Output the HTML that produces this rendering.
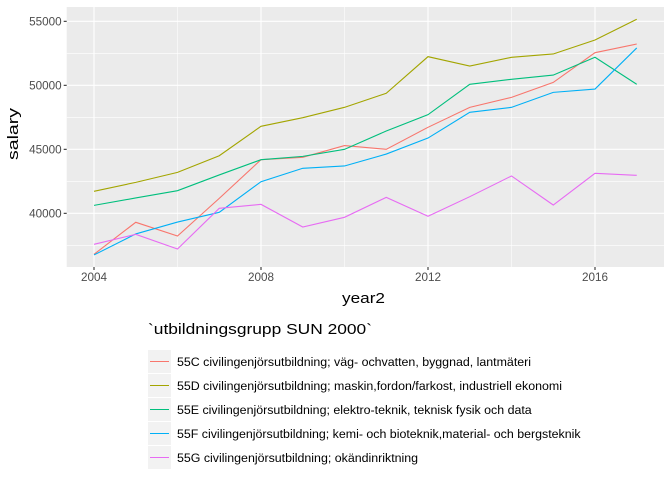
<!DOCTYPE html>
<html><head><meta charset="utf-8"><style>
body{margin:0;background:#fff;font-family:"Liberation Sans",Arial,sans-serif}
svg text{font-family:"Liberation Sans",Arial,sans-serif}
</style></head><body>
<svg id="chart" width="672" height="480">
<rect x="0" y="0" width="672" height="480" fill="#fff"/>
<rect x="66.7" y="7" width="597.3" height="260" fill="#ebebeb"/>
<g id="grid"></g>
<g id="series"></g>
<g id="axes"></g>
<text x="342" y="303" font-size="14.5" textLength="43" lengthAdjust="spacingAndGlyphs" fill="#000">year2</text>
<text transform="translate(18,160) rotate(-90)" font-size="14.5" textLength="52" lengthAdjust="spacingAndGlyphs" fill="#000">salary</text>
<text x="148" y="334" font-size="14.5" textLength="224" lengthAdjust="spacingAndGlyphs" fill="#000">`utbildningsgrupp SUN 2000`</text>
<g id="legend"></g>
</svg>
<script>
const years = [2004,2005,2006,2007,2008,2009,2010,2011,2012,2013,2014,2015,2016,2017];
const names = ["55C civilingenjörsutbildning; väg- ochvatten, byggnad, lantmäteri","55D civilingenjörsutbildning; maskin,fordon/farkost, industriell ekonomi","55E civilingenjörsutbildning; elektro-teknik, teknisk fysik och data","55F civilingenjörsutbildning; kemi- och bioteknik,material- och bergsteknik","55G civilingenjörsutbildning; okändinriktning"];
const colors = ["#F8766D","#A3A500","#00BF7D","#00B0F6","#E76BF3"];
const s55C = [36800,39300,38230,41170,44190,44375,45290,45000,46720,48280,49060,50230,52550,53230];
const s55D = [41720,42420,43200,44500,46800,47470,48280,49380,52240,51510,52190,52450,53540,55160];
const s55E = [40620,41200,41770,43000,44190,44450,45000,46430,47710,50080,50470,50800,52190,50080];
const s55F = [36750,38390,39320,40080,42470,43520,43700,44630,45880,47890,48280,49450,49710,52920];
const s55G = [37580,38360,37210,40390,40700,38930,39690,41250,39770,41300,42920,40650,43130,42970];
const xTicks = [2004,2008,2012,2016];
const xMinor = [2006,2010,2014];
const yTicks = [40000,45000,50000,55000];
const yMinor = [37500,42500,47500,52500];
const series = [s55C,s55D,s55E,s55F,s55G];
const NS="http://www.w3.org/2000/svg";
const X = v => 94 + (v-2004)*41.75;
const Y = v => 21.33 - (v-55000)/1000*12.8;
const L=66.7,R=664,T=7,B=267;
function mk(tag,attrs,parent){const e=document.createElementNS(NS,tag);for(const k in attrs)e.setAttribute(k,attrs[k]);parent.appendChild(e);return e;}
const grid=document.getElementById('grid');
yMinor.forEach(v=>{const e=mk('line',{x1:L,x2:R,y1:Y(v),y2:Y(v),stroke:'#fff','stroke-width':0.55},grid);

});
xMinor.forEach(v=>{const e=mk('line',{x1:X(v),x2:X(v),y1:T,y2:B,stroke:'#fff','stroke-width':0.55},grid);

});
const axes=document.getElementById('axes');
yTicks.forEach(v=>{const e=mk('line',{x1:L,x2:R,y1:Y(v),y2:Y(v),stroke:'#fff','stroke-width':1.1},grid);


const t=mk('line',{x1:L-3,x2:L,y1:Y(v),y2:Y(v),stroke:'#333','stroke-width':1.1},axes);


const l=mk('text',{x:L-5,y:Y(v)+4,'font-size':11.7,'text-anchor':'end',fill:'#4d4d4d'},axes);
l.textContent=v;

});
xTicks.forEach(v=>{const e=mk('line',{x1:X(v),x2:X(v),y1:T,y2:B,stroke:'#fff','stroke-width':1.1},grid);


const t=mk('line',{x1:X(v),x2:X(v),y1:B,y2:B+3,stroke:'#333','stroke-width':1.1},axes);


const l=mk('text',{x:X(v),y:B+14,'font-size':11.7,'text-anchor':'middle',fill:'#4d4d4d'},axes);
l.textContent=v;

});
const sg=document.getElementById('series');
series.forEach((s,i)=>{const p=mk('polyline',{points:s.map((v,j)=>X(years[j])+','+Y(v)).join(' '),fill:'none',stroke:colors[i],'stroke-width':1.1},sg);

});
const lg=document.getElementById('legend');
names.forEach((n,i)=>{const y=350+i*24;
const k=mk('rect',{x:148,y:y,width:23,height:23,fill:'#f2f2f2'},lg);


const ln=mk('line',{x1:150,x2:169,y1:y+11.5,y2:y+11.5,stroke:colors[i],'stroke-width':1.1},lg);


const t=mk('text',{x:177,y:y+16,'font-size':12.4,fill:'#000'},lg);
t.textContent=n;

});
</script>
</body></html>
